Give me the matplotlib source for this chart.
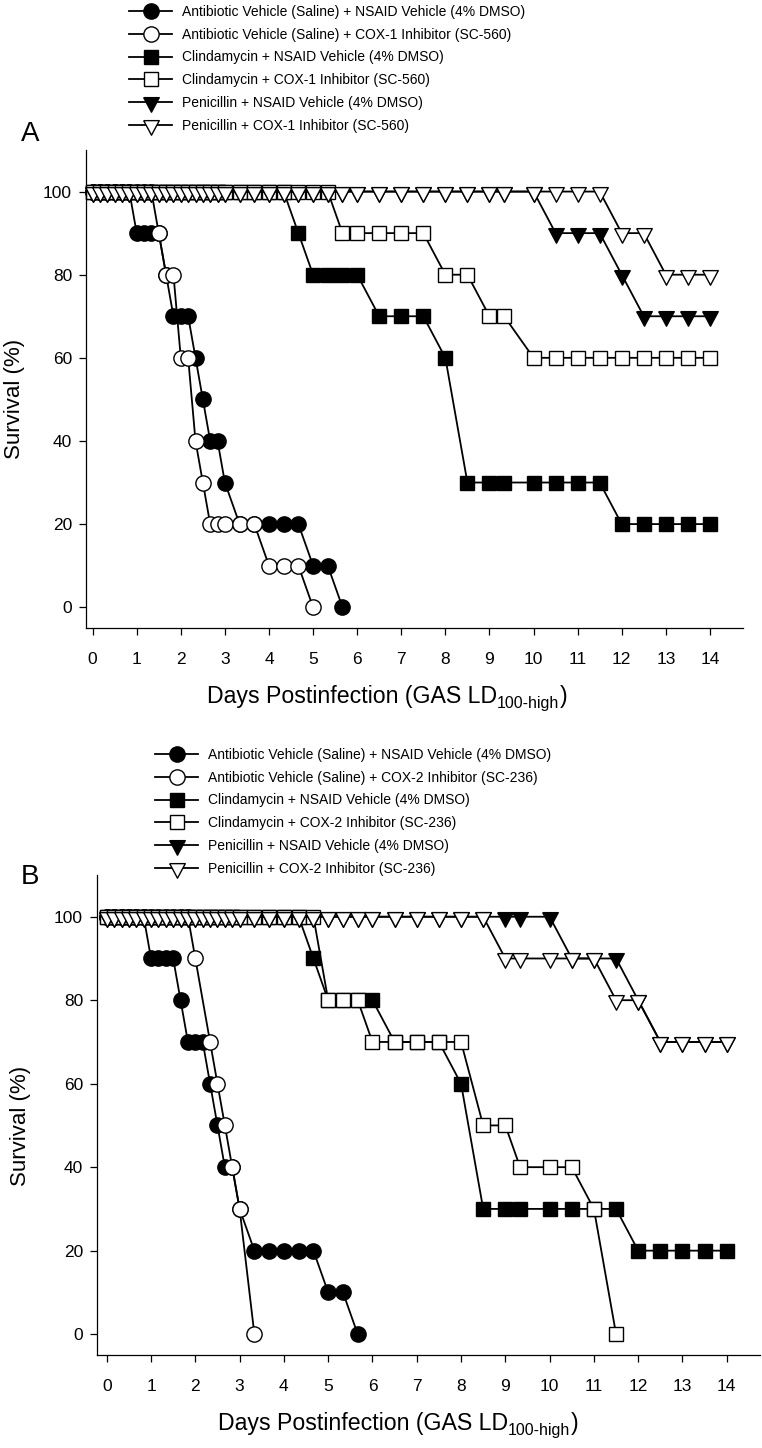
import numpy as np
import matplotlib
matplotlib.use("Agg")
import matplotlib.pyplot as plt

plt.rcParams['font.family'] = ['Liberation Sans', 'DejaVu Sans']

nan = np.nan
W, H = 762, 1448

# observation times (days postinfection)
days = [0, 1/6, 2/6, 3/6, 4/6, 5/6, 1, 7/6, 8/6, 9/6, 10/6, 11/6, 2, 13/6, 14/6, 15/6, 16/6, 17/6, 3,
        10/3, 11/3, 4, 13/3, 14/3, 5, 16/3, 17/3, 6,
        6.5, 7, 7.5, 8, 8.5, 9, 28/3, 10, 10.5, 11, 11.5, 12, 12.5, 13, 13.5, 14]

# survival (%) at each time, nan = no marker (after death / not recorded)
veh_veh = [100, 100, 100, 100, 100, 100, 90, 90, 90, 90, 80, 70, 70, 70, 60, 50, 40, 40, 30,
           20, 20, 20, 20, 20, 10, 10, 0, nan,
           nan, nan, nan, nan, nan, nan, nan, nan, nan, nan, nan, nan, nan, nan, nan, nan]
cli_veh = [100, 100, 100, 100, 100, 100, 100, 100, 100, 100, 100, 100, 100, 100, 100, 100, 100, 100, 100,
           100, 100, 100, 100, 90, 80, 80, 80, 80,
           70, 70, 70, 60, 30, 30, 30, 30, 30, 30, 30, 20, 20, 20, 20, 20]
pen_veh = [100, 100, 100, 100, 100, 100, 100, 100, 100, 100, 100, 100, 100, 100, 100, 100, 100, 100, 100,
           100, 100, 100, 100, 100, 100, 100, 100, 100,
           100, 100, 100, 100, 100, 100, 100, 100, 90, 90, 90, 80, 70, 70, 70, 70]

# panel A: COX-1 inhibitor
a_veh_cox = [100, 100, 100, 100, 100, 100, 100, 100, 100, 90, 80, 80, 60, 60, 40, 30, 20, 20, 20,
             20, 20, 10, 10, 10, 0, nan, nan, nan,
             nan, nan, nan, nan, nan, nan, nan, nan, nan, nan, nan, nan, nan, nan, nan, nan]
a_cli_cox = [100, 100, 100, 100, 100, 100, 100, 100, 100, 100, 100, 100, 100, 100, 100, 100, 100, 100, 100,
             100, 100, 100, 100, 100, 100, 100, 90, 90,
             90, 90, 90, 80, 80, 70, 70, 60, 60, 60, 60, 60, 60, 60, 60, 60]
a_pen_cox = [100, 100, 100, 100, 100, 100, 100, 100, 100, 100, 100, 100, 100, 100, 100, 100, 100, 100, 100,
             100, 100, 100, 100, 100, 100, 100, 100, 100,
             100, 100, 100, 100, 100, 100, 100, 100, 100, 100, 100, 90, 90, 80, 80, 80]

# panel B: COX-2 inhibitor
b_veh_cox = [100, 100, 100, 100, 100, 100, 100, 100, 100, 100, 100, 100, 90, nan, 70, 60, 50, 40, 30,
             0, nan, nan, nan, nan, nan, nan, nan, nan,
             nan, nan, nan, nan, nan, nan, nan, nan, nan, nan, nan, nan, nan, nan, nan, nan]
b_cli_cox = [100, 100, 100, 100, 100, 100, 100, 100, 100, 100, 100, 100, 100, 100, 100, 100, 100, 100, 100,
             100, 100, 100, 100, 100, 80, 80, 80, 70,
             70, 70, 70, 70, 50, 50, 40, 40, 40, 30, 0, nan, nan, nan, nan, nan]
b_pen_cox = [100, 100, 100, 100, 100, 100, 100, 100, 100, 100, 100, 100, 100, 100, 100, 100, 100, 100, 100,
             100, 100, 100, 100, 100, 100, 100, 100, 100,
             100, 100, 100, 100, 100, 90, 90, 90, 90, 90, 80, 80, 70, 70, 70, 70]

labels_a = ["Antibiotic Vehicle (Saline) + NSAID Vehicle (4% DMSO)",
            "Antibiotic Vehicle (Saline) + COX-1 Inhibitor (SC-560)",
            "Clindamycin + NSAID Vehicle (4% DMSO)",
            "Clindamycin + COX-1 Inhibitor (SC-560)",
            "Penicillin + NSAID Vehicle (4% DMSO)",
            "Penicillin + COX-1 Inhibitor (SC-560)"]
labels_b = [s.replace("COX-1", "COX-2").replace("SC-560", "SC-236") for s in labels_a]

tri = [(-0.8, 0.5), (0.8, 0.5), (0.0, -1.0), (-0.8, 0.5)]
styles = [("o", "black", 11), ("o", "white", 11), ("s", "black", 10.5),
          ("s", "white", 10.5), (tri, "black", 14), (tri, "white", 14)]

fig = plt.figure(figsize=(W / 100, H / 100), dpi=100)
axA = fig.add_axes([86 / W, 1 - 628 / H, 657 / W, 478 / H])
axB = fig.add_axes([97 / W, 1 - 1355 / H, 663 / W, 480 / H])


def draw(ax, series, labels, xlim, dx, dy, leg_x, leg_dy, letter):
    t = np.array(days)
    handles = []
    for vals, (mk, face, ms), lab in zip(series, styles, labels):
        v = np.array(vals, dtype=float)
        m = np.isfinite(v)
        h, = ax.plot(t[m], v[m], color="black", lw=1.3, marker=mk, ms=ms,
                     mfc=face, mec="black", mew=1.0, label=lab, clip_on=False)
        handles.append(h)
    ax.set_xlim(*xlim)
    ax.set_ylim(-5, 110)
    ax.set_xticks(range(0, 15))
    ax.set_yticks(range(0, 101, 20))
    for s in ("top", "right"):
        ax.spines[s].set_visible(False)
    for s in ("left", "bottom"):
        ax.spines[s].set_linewidth(0.9)
    ax.tick_params(direction="out", length=5, width=0.9, labelsize=12.5)
    ax.tick_params(axis="x", pad=12)
    ax.tick_params(axis="y", pad=5)

    # x label with subscript
    t1 = fig.text((207 + dx) / W, 1 - (703 + dy) / H, "Days Postinfection (GAS LD",
                  fontsize=16.7, va="baseline", ha="left")
    t2 = ax.annotate("100-high", xy=(1, 0), xycoords=t1, fontsize=11.5,
                     va="baseline", ha="left")
    ax.annotate(")", xy=(1, 0), xycoords=(t2, t1), fontsize=16.7, va="bottom", ha="left")

    fig.text((15 + dx / 2) / W, 1 - (399 + dy) / H, "Survival (%)", fontsize=16,
             rotation=90, ha="center", va="center")
    fig.legend(handles, labels, loc="upper left", bbox_to_anchor=(leg_x / W, 1 - (5 + leg_dy) / H),
               frameon=False, borderpad=0, borderaxespad=0, handlelength=3.1,
               handletextpad=0.7, labelspacing=0.63, fontsize=10, numpoints=1)
    fig.text(30 / W, 1 - (134 + leg_dy) / H, letter, fontsize=20, ha="center", va="center")


draw(axA, [veh_veh, a_veh_cox, cli_veh, a_cli_cox, pen_veh, a_pen_cox], labels_a,
     (-0.15, 14.75), 0, 0, 129, 0, "A")
draw(axB, [veh_veh, b_veh_cox, cli_veh, b_cli_cox, pen_veh, b_pen_cox], labels_b,
     (-0.22, 14.75), 11, 727, 155, 743, "B")

fig.savefig("out.png", dpi=100)
